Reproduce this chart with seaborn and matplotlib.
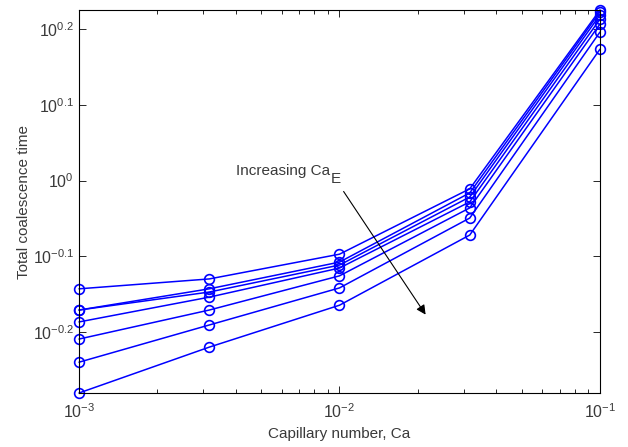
import numpy as np
import pandas as pd
import matplotlib
matplotlib.use("Agg")
import matplotlib.pyplot as plt
import seaborn as sns
from matplotlib.ticker import FixedLocator, FixedFormatter, LogLocator, NullLocator

# -----------------------------
# DATA
# -----------------------------
ca = [1e-3, 10 ** -2.5, 1e-2, 10 ** -1.5, 1e-1]

t1 = [0.719, 0.741, 0.799, 0.975, 1.681]
t2 = [0.674, 0.719, 0.780, 0.963, 1.671]
t3 = [0.674, 0.712, 0.773, 0.951, 1.656]
t4 = [0.650, 0.701, 0.766, 0.937, 1.635]
t5 = [0.617, 0.674, 0.748, 0.920, 1.611]
t6 = [0.575, 0.644, 0.721, 0.892, 1.572]
t7 = [0.5235, 0.602, 0.684, 0.847, 1.492]

series = [t1, t2, t3, t4, t5, t6, t7]

ytick_exp = [-0.2, -0.1, 0.0, 0.1, 0.2]
ytick_labels = ["$10^{-0.2}$", "$10^{-0.1}$", "$10^{0}$", "$10^{0.1}$", "$10^{0.2}$"]
xtick_vals = [1e-3, 1e-2, 1e-1]
xtick_labels = ["$10^{-3}$", "$10^{-2}$", "$10^{-1}$"]

# -----------------------------
# STYLE
# -----------------------------
sns.set_style("ticks")
plt.rcParams["font.family"] = ["Liberation Sans", "DejaVu Sans"]
plt.rcParams["mathtext.fontset"] = "custom"
plt.rcParams["mathtext.rm"] = "Liberation Sans"
plt.rcParams["mathtext.it"] = "Liberation Sans"
plt.rcParams["mathtext.default"] = "regular"

fig = plt.figure(figsize=(6.28, 4.47), dpi=100)
ax = fig.add_axes([0.1258, 0.1208, 0.8296, 0.8568])

for i, s in enumerate(series):
    df = pd.DataFrame({"Ca": ca, "t": s})
    sns.lineplot(data=df, x="Ca", y="t", ax=ax, color="#0000ff", lw=1.1,
                 marker="o", markersize=7, markerfacecolor="none",
                 markeredgecolor="#0000ff", markeredgewidth=1.2, clip_on=False)

ax.set_xscale("log")
ax.set_yscale("log")
ax.set_xlim(1e-3, 1e-1)
ymin = min(min(s) for s in series)
ymax = max(max(s) for s in series)
ax.set_ylim(ymin, ymax)

ax.xaxis.set_major_locator(FixedLocator(xtick_vals))
ax.xaxis.set_major_formatter(FixedFormatter(xtick_labels))
ax.xaxis.set_minor_locator(LogLocator(base=10, subs=np.arange(2, 10)))
ax.yaxis.set_major_locator(FixedLocator([10 ** e for e in ytick_exp]))
ax.yaxis.set_major_formatter(FixedFormatter(ytick_labels))
ax.yaxis.set_minor_locator(NullLocator())

for sp in ax.spines.values():
    sp.set_visible(True)
    sp.set_color("black")
    sp.set_linewidth(0.8)

ax.tick_params(which="both", direction="in", top=True, right=True,
               labelsize=11.5, labelcolor="#3a3a3a")
ax.tick_params(which="major", length=5, width=0.7)
ax.tick_params(which="minor", length=3, width=0.7)
ax.tick_params(axis="x", pad=7)

ax.set_xlabel("Capillary number, Ca", fontsize=11, color="#3a3a3a", labelpad=4)
ax.set_ylabel("Total coalescence time", fontsize=11, color="#3a3a3a", labelpad=1)

ax.annotate("", xy=(0.0217, 0.660), xytext=(0.01023, 0.974),
            arrowprops=dict(arrowstyle="-|>", color="black", lw=0.8,
                            mutation_scale=14))
txt = ax.text(0.004, 1.030, "Increasing Ca", fontsize=11, color="#3a3a3a",
              va="center", ha="left")
ax.annotate("E", xy=(1, 0), xycoords=txt, xytext=(0.5, 4), textcoords="offset points",
            fontsize=11, color="#3a3a3a", va="top", ha="left")

fig.savefig("out.png", dpi=100, facecolor="white")
